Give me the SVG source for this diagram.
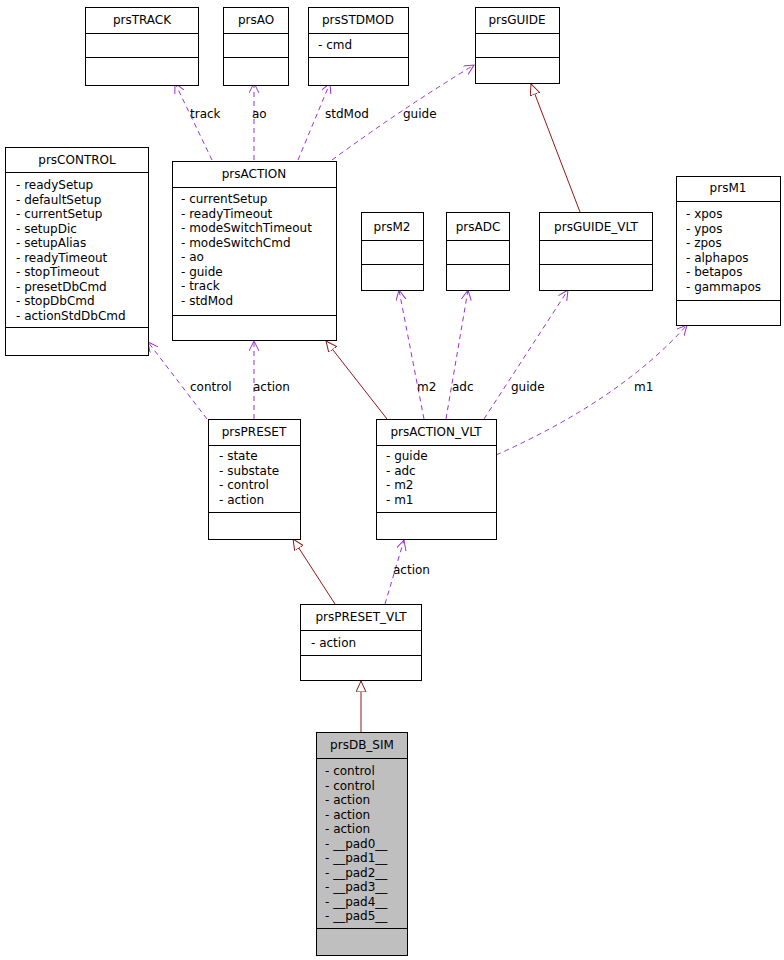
<svg xmlns="http://www.w3.org/2000/svg" width="784" height="960" viewBox="0 0 784 960">
<style>
.b{fill:#fff;stroke:#000;stroke-width:1}
.g{fill:#bfbfbf;stroke:#000;stroke-width:1}
.l{stroke:#000;stroke-width:1}
text{font-family:"DejaVu Sans",sans-serif;font-size:12px;fill:#000}
.t{text-anchor:middle}
.d{fill:none;stroke:#9a32cd;stroke-width:1;stroke-dasharray:5,4}
.i{fill:none;stroke:#8b1a1a;stroke-width:1}
</style>
<defs>
<marker id="oa" markerWidth="12" markerHeight="12" refX="10" refY="5" orient="auto" markerUnits="userSpaceOnUse"><path d="M0,0 L10,5 L0,10" fill="none" stroke="#9a32cd"/></marker>
<marker id="tri" markerWidth="14" markerHeight="14" refX="11" refY="5" orient="auto" markerUnits="userSpaceOnUse"><path d="M0,0 L11,5 L0,10 Z" fill="#fff" stroke="#8b1a1a"/></marker>
</defs>
<g id="connectors">
<path class="d" d="M212,160 L175,83" marker-end="url(#oa)"/>
<path class="d" d="M254,160 L254,83" marker-end="url(#oa)"/>
<path class="d" d="M298,160 L330,83" marker-end="url(#oa)"/>
<path class="d" d="M332,160 Q400,110 474,65" marker-end="url(#oa)"/>
<path class="i" d="M580,212 L531,84" marker-end="url(#tri)"/>
<path class="d" d="M207,419 L148,342" marker-end="url(#oa)"/>
<path class="d" d="M254,419 L254,341" marker-end="url(#oa)"/>
<path class="i" d="M387,419 L326,341" marker-end="url(#tri)"/>
<path class="d" d="M424,419 L399,290" marker-end="url(#oa)"/>
<path class="d" d="M446,419 L468,290" marker-end="url(#oa)"/>
<path class="d" d="M484,419 L568,290" marker-end="url(#oa)"/>
<path class="d" d="M496,455 Q620,400 687,325" marker-end="url(#oa)"/>
<path class="i" d="M335,604 L293,539" marker-end="url(#tri)"/>
<path class="d" d="M385,604 L404,540" marker-end="url(#oa)"/>
<path class="i" d="M361,732 L361,681" marker-end="url(#tri)"/>
<text x="190" y="118">track</text>
<text x="252" y="118">ao</text>
<text x="325" y="118">stdMod</text>
<text x="403" y="118">guide</text>
<text x="190" y="391">control</text>
<text x="253" y="391">action</text>
<text x="417" y="391">m2</text>
<text x="452" y="391">adc</text>
<text x="511" y="391">guide</text>
<text x="634" y="391">m1</text>
<text x="393" y="574">action</text>
</g>
<g id="prsTRACK"><rect class="b" x="85.5" y="7.5" width="113" height="78"/><path class="l" d="M85.5,33.5h113M85.5,57.5h113"/><text class="t" x="142" y="24">prsTRACK</text></g>
<g id="prsAO"><rect class="b" x="223.5" y="7.5" width="65" height="78"/><path class="l" d="M223.5,33.5h65M223.5,57.5h65"/><text class="t" x="256" y="24">prsAO</text></g>
<g id="prsSTDMOD"><rect class="b" x="308.5" y="7.5" width="100" height="78"/><path class="l" d="M308.5,33.5h100M308.5,57.5h100"/><text class="t" x="358" y="24">prsSTDMOD</text><text x="318" y="49">- cmd</text></g>
<g id="prsGUIDE"><rect class="b" x="475.5" y="7.5" width="84" height="76"/><path class="l" d="M475.5,33.5h84M475.5,57.5h84"/><text class="t" x="517" y="24">prsGUIDE</text></g>
<g id="prsCONTROL"><rect class="b" x="5.5" y="147.5" width="143" height="208"/><path class="l" d="M5.5,172.5h143M5.5,327.5h143"/><text class="t" x="77" y="164">prsCONTROL</text>
<text x="16" y="189">- readySetup</text><text x="16" y="203.5">- defaultSetup</text><text x="16" y="218">- currentSetup</text><text x="16" y="232.5">- setupDic</text><text x="16" y="247">- setupAlias</text><text x="16" y="261.5">- readyTimeout</text><text x="16" y="276">- stopTimeout</text><text x="16" y="290.5">- presetDbCmd</text><text x="16" y="305">- stopDbCmd</text><text x="16" y="319.5">- actionStdDbCmd</text></g>
<g id="prsACTION"><rect class="b" x="172.5" y="161.5" width="164" height="179"/><path class="l" d="M172.5,187.5h164M172.5,315.5h164"/><text class="t" x="254" y="178">prsACTION</text>
<text x="181" y="203">- currentSetup</text><text x="181" y="217.5">- readyTimeout</text><text x="181" y="232">- modeSwitchTimeout</text><text x="181" y="246.5">- modeSwitchCmd</text><text x="181" y="261">- ao</text><text x="181" y="275.5">- guide</text><text x="181" y="290">- track</text><text x="181" y="304.5">- stdMod</text></g>
<g id="prsM2"><rect class="b" x="361.5" y="212.5" width="62" height="78"/><path class="l" d="M361.5,240.5h62M361.5,264.5h62"/><text class="t" x="392" y="231">prsM2</text></g>
<g id="prsADC"><rect class="b" x="446.5" y="212.5" width="63" height="78"/><path class="l" d="M446.5,240.5h63M446.5,264.5h63"/><text class="t" x="478" y="231">prsADC</text></g>
<g id="prsGUIDE_VLT"><rect class="b" x="539.5" y="212.5" width="113" height="78"/><path class="l" d="M539.5,240.5h113M539.5,264.5h113"/><text class="t" x="596" y="231">prsGUIDE_VLT</text></g>
<g id="prsM1"><rect class="b" x="676.5" y="176.5" width="104" height="149"/><path class="l" d="M676.5,201.5h104M676.5,300.5h104"/><text class="t" x="728" y="192">prsM1</text>
<text x="686" y="218">- xpos</text><text x="686" y="232.5">- ypos</text><text x="686" y="247">- zpos</text><text x="686" y="261.5">- alphapos</text><text x="686" y="276">- betapos</text><text x="686" y="290.5">- gammapos</text></g>
<g id="prsPRESET"><rect class="b" x="208.5" y="419.5" width="92" height="120"/><path class="l" d="M208.5,445.5h92M208.5,512.5h92"/><text class="t" x="254" y="436">prsPRESET</text>
<text x="219" y="460">- state</text><text x="219" y="474.5">- substate</text><text x="219" y="489">- control</text><text x="219" y="503.5">- action</text></g>
<g id="prsACTION_VLT"><rect class="b" x="376.5" y="419.5" width="120" height="120"/><path class="l" d="M376.5,445.5h120M376.5,512.5h120"/><text class="t" x="436" y="436">prsACTION_VLT</text>
<text x="386" y="460">- guide</text><text x="386" y="474.5">- adc</text><text x="386" y="489">- m2</text><text x="386" y="503.5">- m1</text></g>
<g id="prsPRESET_VLT"><rect class="b" x="300.5" y="604.5" width="121" height="76"/><path class="l" d="M300.5,630.5h121M300.5,655.5h121"/><text class="t" x="361" y="621">prsPRESET_VLT</text><text x="311" y="647">- action</text></g>
<g id="prsDB_SIM"><rect class="g" x="316.5" y="732.5" width="91" height="223"/><path class="l" d="M316.5,758.5h91M316.5,928.5h91"/><text class="t" x="362" y="749">prsDB_SIM</text>
<text x="325" y="775">- control</text><text x="325" y="789.5">- control</text><text x="325" y="804">- action</text><text x="325" y="818.5">- action</text><text x="325" y="833">- action</text><text x="325" y="847.5">- __pad0__</text><text x="325" y="862">- __pad1__</text><text x="325" y="876.5">- __pad2__</text><text x="325" y="891">- __pad3__</text><text x="325" y="905.5">- __pad4__</text><text x="325" y="920">- __pad5__</text></g>
</svg>
